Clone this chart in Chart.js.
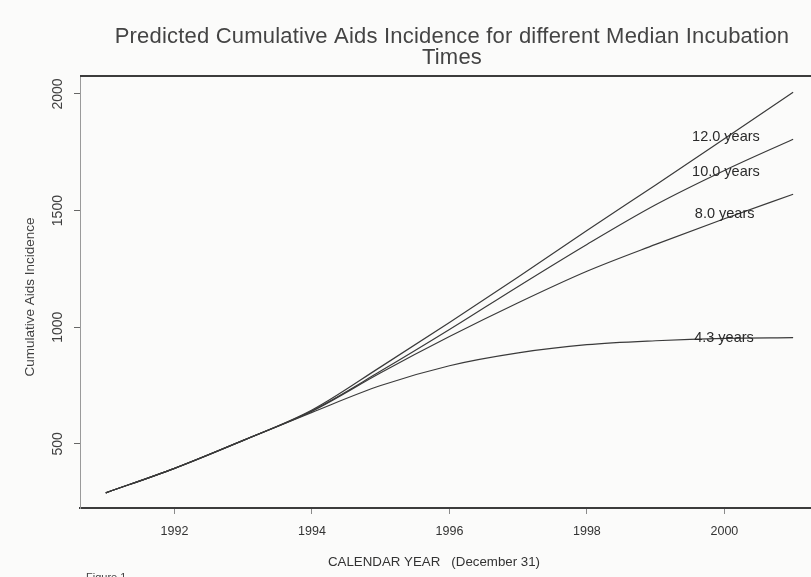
<!DOCTYPE html>
<html>
<head>
<meta charset="utf-8">
<script src="https://cdn.jsdelivr.net/npm/chart.js@4/dist/chart.umd.min.js"></script>
<style>
  html, body { margin: 0; padding: 0; background: #fbfbfa; }
  #wrap { width: 811px; height: 577px; position: relative; }
</style>
</head>
<body>
<div id="wrap"><canvas id="c"></canvas></div>
<script>
// ---- data ----
const years = [1991, 1992, 1993, 1994, 1995, 1996, 1997, 1998, 1999, 2000, 2001];
const inc43  = [290, 395, 515, 635, 750, 835, 890, 925, 942, 952, 955];
const inc80  = [290, 395, 515, 640, 805, 960, 1105, 1240, 1355, 1465, 1570];
const inc100 = [290, 395, 515, 642, 812, 990, 1175, 1355, 1525, 1672, 1806];
const inc120 = [290, 395, 515, 645, 830, 1020, 1215, 1415, 1610, 1808, 2007];
const xTicks = [1992, 1994, 1996, 1998, 2000];
const yTicks = [500, 1000, 1500, 2000];
const seriesLabels = ['4.3 years', '8.0 years', '10.0 years', '12.0 years'];
const labelYears  = [1999.56, 1999.57, 1999.53, 1999.53];
const labelValues = [954, 1485, 1665, 1815];
const titleLines = ['Predicted Cumulative Aids Incidence for different Median Incubation', 'Times'];
const xTitle = 'CALENDAR YEAR   (December 31)';
const yTitle = 'Cumulative Aids Incidence';
const footText = 'Figure 1';

const seriesValues = [inc43, inc80, inc100, inc120];
const lineColor = '#3a3a3a';

const datasets = seriesValues.map((vals, i) => ({
  label: seriesLabels[i],
  data: years.map((y, j) => ({ x: y, y: vals[j] })),
  borderColor: lineColor,
  borderWidth: 1.2,
  pointRadius: 0,
  fill: false,
  cubicInterpolationMode: 'monotone'
}));

const decor = {
  id: 'decor',
  afterDraw(chart) {
    const ctx = chart.ctx;
    const xs = chart.scales.x, ys = chart.scales.y;
    const ca = chart.chartArea;
    ctx.save();
    // top frame line
    ctx.strokeStyle = '#3c3c3c';
    ctx.lineWidth = 2;
    ctx.beginPath();
    ctx.moveTo(ca.left, ca.top);
    ctx.lineTo(chart.width, ca.top);
    ctx.stroke();

    // title
    ctx.fillStyle = '#444';
    ctx.textAlign = 'center';
    ctx.textBaseline = 'middle';
    ctx.font = '22px "Liberation Sans", Arial, sans-serif';
    try { ctx.letterSpacing = '0.2px'; } catch (e) {}
    ctx.fillText(titleLines[0], 452, 37);
    ctx.fillText(titleLines[1], 452, 58);
    try { ctx.letterSpacing = '0px'; } catch (e) {}

    // y tick labels (rotated)
    ctx.font = '14px "Liberation Sans", Arial, sans-serif';
    ctx.fillStyle = '#404040';
    yTicks.forEach(v => {
      const py = ys.getPixelForValue(v);
      ctx.save();
      ctx.translate(58, py);
      ctx.rotate(-Math.PI / 2);
      ctx.fillText(String(v), 0, 0);
      ctx.restore();
    });

    // y title
    ctx.font = '13.5px "Liberation Sans", Arial, sans-serif';
    ctx.save();
    ctx.translate(30, 297);
    ctx.rotate(-Math.PI / 2);
    ctx.fillText(yTitle, 0, 0);
    ctx.restore();

    // x title
    ctx.font = '13.3px "Liberation Sans", Arial, sans-serif';
    ctx.fillStyle = '#333';
    ctx.fillText(xTitle, 434, 562);

    // series labels
    ctx.font = '14.5px "Liberation Sans", Arial, sans-serif';
    ctx.textAlign = 'left';
    ctx.fillStyle = '#2a2a2a';
    seriesLabels.forEach((t, i) => {
      ctx.fillText(t, xs.getPixelForValue(labelYears[i]), ys.getPixelForValue(labelValues[i]));
    });

    // footer (cut off)
    ctx.font = '11px "Liberation Sans", Arial, sans-serif';
    ctx.fillStyle = '#444';
    ctx.textBaseline = 'alphabetic';
    ctx.fillText(footText, 86, 581);
    ctx.restore();
  }
};

new Chart(document.getElementById('c'), {
  type: 'line',
  data: { datasets },
  options: {
    responsive: true,
    maintainAspectRatio: false,
    animation: false,
    layout: { padding: { top: 76, left: 0, right: 0, bottom: 0 } },
    plugins: { legend: { display: false }, title: { display: false }, tooltip: { enabled: false } },
    scales: {
      x: {
        type: 'linear',
        min: 1990.625,
        max: 2001.26,
        afterBuildTicks: s => { s.ticks = xTicks.map(v => ({ value: v })); },
        afterFit: s => { s.height = 69; },
        ticks: {
          color: '#333',
          font: { family: '"Liberation Sans", Arial, sans-serif', size: 12.5 },
          padding: 10,
          maxRotation: 0,
          autoSkip: false,
          callback: v => String(v)
        },
        grid: { drawOnChartArea: false, drawTicks: true, tickLength: 6, color: '#8a8a8a' },
        border: { display: true, color: '#3c3c3c', width: 2 }
      },
      y: {
        type: 'linear',
        min: 225,
        max: 2077,
        afterBuildTicks: s => { s.ticks = yTicks.map(v => ({ value: v })); },
        afterFit: s => { s.width = 80; },
        ticks: { display: false },
        grid: { drawOnChartArea: false, drawTicks: true, tickLength: 6, color: '#666' },
        border: { display: true, color: '#9a9a9a', width: 1, dash: [4, 3] }
      }
    }
  },
  plugins: [decor]
});
</script>
</body>
</html>
